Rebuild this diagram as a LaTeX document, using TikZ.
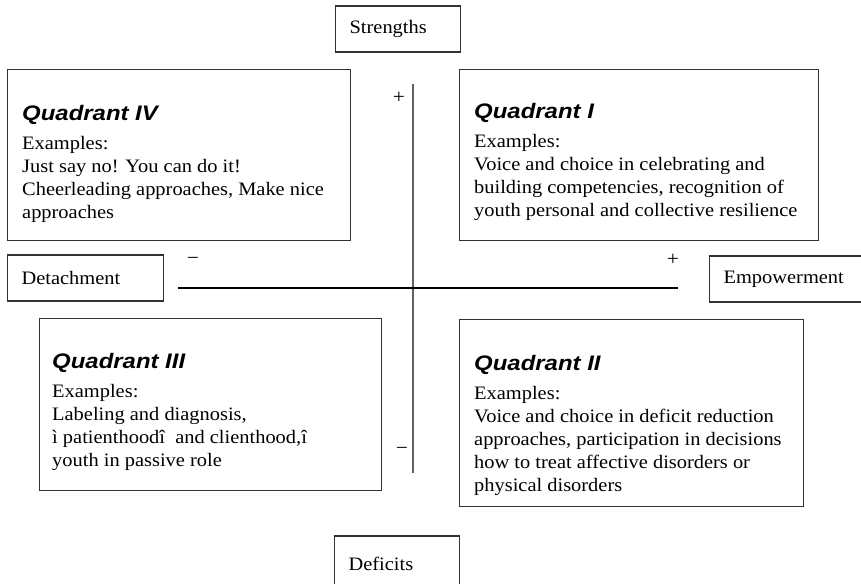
\documentclass[tikz,border=0pt]{standalone}
\usepackage{fontspec}
\setmainfont{Liberation Serif}[FakeStretch=1.075]
\newfontfamily\headfont{Liberation Sans}[FakeStretch=1.14]
\usetikzlibrary{positioning}
\definecolor{axisgray}{rgb}{0.38,0.38,0.38}
\definecolor{boxline}{rgb}{0.2,0.2,0.2}
\newcommand{\quadhead}[1]{{\headfont\bfseries\itshape\fontsize{21}{23}\selectfont #1}\\[6pt]}
\tikzset{labelbox/.style = {draw=boxline, line width=1.2pt, minimum height=46pt,
                            inner xsep=14pt, align=left, anchor=west,
                            font=\fontsize{19}{23}\selectfont}}
\tikzset{quadbox/.style = {draw=boxline, line width=1.2pt, anchor=north west, inner sep=0}}
\tikzset{quadtext/.style = {inner sep=0, align=left, font=\fontsize{19}{23}\selectfont}}
\tikzset{sign/.style = {inner sep=0, font=\fontsize{20}{20}\selectfont}}
\begin{document}
\begin{tikzpicture}[x=1pt, y=-1pt]
        \path[use as bounding box, clip] (0,0) rectangle (861,583);
        % axes
        \coordinate (vtop) at (413,84);
        \coordinate (vbot) at (413,473);
        \coordinate (hleft) at (178,288);
        \coordinate (hright) at (678,288);
        \draw[axisgray, line width=1.6pt] (vtop) -- (vbot);
        \draw[black, line width=1.2pt] (hleft) -- (hright);
        \node[sign] (vplus) at (399,98) {+};
        \node[sign] (vminus) at (402,451) {−};
        \node[sign] (hminus) at (193,261) {−};
        \node[sign] (hplus) at (673,260) {+};
        % end labels
        \node[labelbox, text width=97pt] (strengths) at (335,29) {Strengths};
        \node[labelbox, text width=128pt] (detach) at (7,278) {Detachment};
        \node[labelbox, text width=140pt] (empower) at (709,279) {Empowerment};
        \node[labelbox, text width=97pt, minimum height=56pt] (deficits) at (334,564) {Deficits};
        % quadrants
        \node[quadbox, minimum width=343pt, minimum height=171pt] (q4) at (7,69) {};
        \node[quadbox, minimum width=359pt, minimum height=171pt] (q1) at (459,69) {};
        \node[quadbox, minimum width=342pt, minimum height=172pt] (q3) at (39,318) {};
        \node[quadbox, minimum width=344pt, minimum height=187pt] (q2) at (459,319) {};
        \node[quadtext, below right=36pt and 15pt of q4.north west] (q4text)
          {\quadhead{Quadrant IV}Examples:\\Just say no! You can do it!\\
           Cheerleading approaches, Make nice\\approaches};
        \node[quadtext, below right=34pt and 15pt of q1.north west] (q1text)
          {\quadhead{Quadrant I}Examples:\\Voice and choice in celebrating and\\
           building competencies, recognition of\\youth personal and collective resilience};
        \node[quadtext, below right=35pt and 13pt of q3.north west] (q3text)
          {\quadhead{Quadrant III}Examples:\\Labeling and diagnosis,\\
           ì patienthoodî~ and clienthood,î\\youth in passive role};
        \node[quadtext, below right=36pt and 15pt of q2.north west] (q2text)
          {\quadhead{Quadrant II}Examples:\\Voice and choice in deficit reduction\\
           approaches, participation in decisions\\how to treat affective disorders or\\
           physical disorders};
    \end{tikzpicture}
\end{document}
